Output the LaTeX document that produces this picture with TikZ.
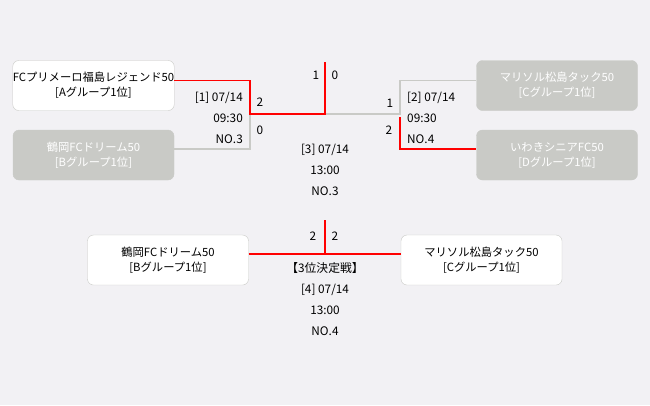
\documentclass[tikz,border=0pt]{standalone}
\usepackage{fontspec}
\setmainfont{Noto Sans CJK JP}
\usetikzlibrary{positioning}
\definecolor{bg}{HTML}{F2F1F4}
\definecolor{lose}{HTML}{C9CAC6}
\definecolor{win}{HTML}{FF0000}

\begin{document}
\begin{tikzpicture}[
x=1pt, y=-1pt,
font=\fontsize{11.3}{15}\selectfont,
box/.style={rectangle, draw=lose, fill=white, rounded corners=6pt, align=center, minimum width=161pt, minimum height=50pt, inner sep=0pt},
outbox/.style={box, fill=lose, text=white},
info/.style={inner sep=0pt, font=\fontsize{11.8}{21}\selectfont},
winline/.style={draw=win, line width=1.8pt},
loseline/.style={draw=lose, line width=1.8pt}
]
\fill[bg] (0,0) rectangle (650,405);

% teams
\node[box] (fuk) at (93.5,85.5) {FCプリメーロ福島レジェンド50\\{}[Aグループ1位]};
\node[outbox] (tsu) at (93.5,155) {鶴岡FCドリーム50\\{}[Bグループ1位]};
\node[outbox] (mat) at (557,85.5) {マリソル松島タック50\\{}[Cグループ1位]};
\node[outbox] (iwa) at (557,155) {いわきシニアFC50\\{}[Dグループ1位]};
\node[box] (tsu2) at (168,260) {鶴岡FCドリーム50\\{}[Bグループ1位]};
\node[box] (mat2) at (481.5,260) {マリソル松島タック50\\{}[Cグループ1位]};

% junctions
\coordinate (semi1) at (250,114);
\coordinate (final) at (325,114);
\coordinate (champ) at (325,62);
\coordinate (semi2) at (400,114);
\coordinate (third) at (325,254);
\coordinate (thirdtop) at (325,220);

\draw[loseline] ([yshift=6pt]tsu.east) -| (semi1);
\draw[loseline] (final) -- (semi2) |- ([yshift=5pt]mat.west);
\draw[winline] ([yshift=5pt]fuk.east) -| (semi1) -- (final) -- (champ);
\draw[winline] ([yshift=-3pt]semi2) |- ([yshift=6pt]iwa.west);
\draw[winline] ([yshift=6pt]tsu2.east) -- ([yshift=6pt]mat2.west);
\draw[winline] (third) -- (thirdtop);

% scores
\node[info] (s1) at (316,75) {1};
\node[info] (s2) at (335,75) {0};
\node[info] (s3) at (260,102) {2};
\node[info] (s4) at (260,130) {0};
\node[info] (s5) at (390,103) {1};
\node[info] (s6) at (389,130) {2};
\node[info] (s7) at (313,236) {2};
\node[info] (s8) at (335,236) {2};

% match info
\node[info, anchor=east, align=right] (m1) at (243,118) {[1] 07/14\\09:30\\NO.3};
\node[info, anchor=west, align=left] (m2) at (407,118) {[2] 07/14\\09:30\\NO.4};
\node[info, align=center] (m3) at (325,170) {[3] 07/14\\13:00\\NO.3};
\node[info, align=center] (m4) at (325,299) {【3位決定戦】\\{}[4] 07/14\\13:00\\NO.4};

\end{tikzpicture}
\end{document}
